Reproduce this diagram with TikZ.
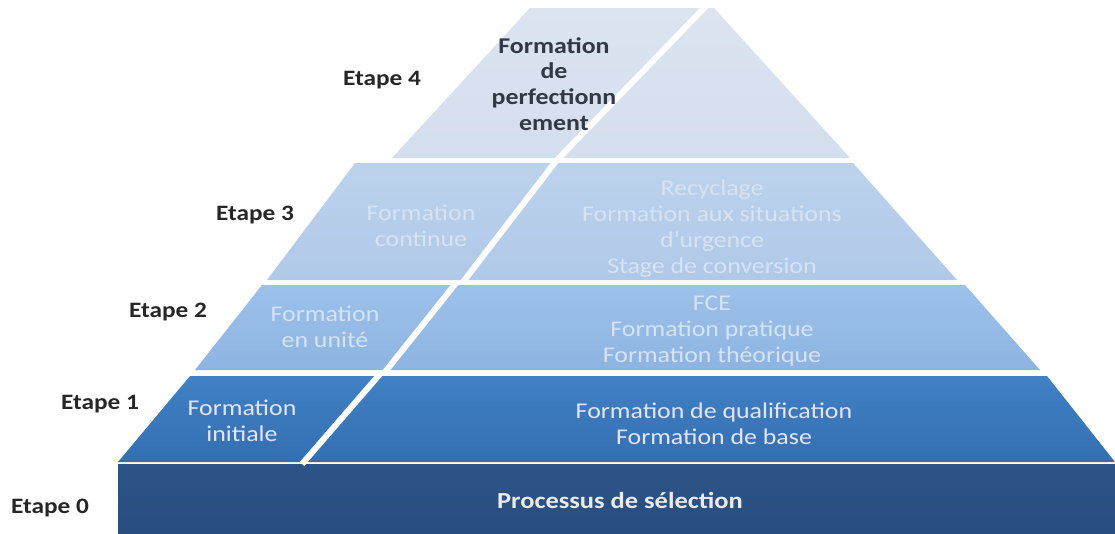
\documentclass[tikz,border=0pt]{standalone}
\usepackage{fontspec}
\setmainfont{Carlito}[FakeStretch=1.15]
\definecolor{baseblue}{HTML}{2C5487}
\definecolor{baseblueD}{HTML}{284E7E}
\definecolor{oneT}{HTML}{4181C5}
\definecolor{oneB}{HTML}{336EB2}
\definecolor{twoT}{HTML}{9CC1EA}
\definecolor{twoB}{HTML}{8DB4E1}
\definecolor{threeT}{HTML}{BCD2EC}
\definecolor{threeB}{HTML}{B0C9E8}
\definecolor{fourT}{HTML}{DCE4F0}
\definecolor{fourB}{HTML}{D3DEEE}
\definecolor{darktext}{HTML}{323844}
\definecolor{pale}{HTML}{D6E3F3}
\begin{document}
\begin{tikzpicture}[x=1pt,y=-1pt,
  stage/.style={font=\fontsize{22}{26}\selectfont\bfseries, text=black!85, inner sep=0pt},
  celltext/.style={align=center, inner sep=0pt, font=\fontsize{22.5}{26}\selectfont},
  divider/.style={white, line width=6pt},
  tierfill/.style 2 args={top color=#1, bottom color=#2, draw=none}]
% canvas
\fill[white] (0,0) rectangle (1115,533);
\useasboundingbox (0,0) rectangle (1115,533);

% Etape 0 : base block
\shade[tierfill={baseblue}{baseblueD}] (118,464) rectangle (1115,533);
% Etape 1
\shade[tierfill={oneT}{oneB}] (118,462) -- (1115,462) -- (1047,376) -- (190,376) -- cycle;
\draw[divider] (380,374) -- (302,464);
% Etape 2
\shade[tierfill={twoT}{twoB}] (195,370) -- (1040,370) -- (965,285) -- (262,285) -- cycle;
\draw[divider] (456,283) -- (385,372);
% Etape 3
\shade[tierfill={threeT}{threeB}] (267,280) -- (957,280) -- (853,163) -- (355,163) -- cycle;
\draw[divider] (556,161) -- (463,282);
% Etape 4
\shade[tierfill={fourT}{fourB}] (392,158) -- (850,158) -- (714,8) -- (530,8) -- cycle;
\draw[divider] (706,6) -- (557,160);

% stage labels
\node[stage] (e4) at (382,80) {Etape 4};
\node[stage] (e3) at (255,215) {Etape 3};
\node[stage] (e2) at (168,312) {Etape 2};
\node[stage] (e1) at (100,404) {Etape 1};
\node[stage] (e0) at (50,508) {Etape 0};

% cell texts
\node[celltext, font=\fontsize{22.5}{25.7}\selectfont\bfseries, text=darktext] (t4) at (554,84)
  {Formation\\de\\perfectionn\\ement};
\node[celltext, text=pale] (t3a) at (421,226) {Formation\\continue};
\node[celltext, text=pale] (t3b) at (712,229)
  {Recyclage\\Formation aux situations\\d'urgence\\Stage de conversion};
\node[celltext, text=pale] (t2a) at (325,327) {Formation\\en unité};
\node[celltext, text=pale] (t2b) at (712,331)
  {FCE\\Formation pratique\\Formation théorique};
\node[celltext, text=white!90!blue] (t1a) at (242,421) {Formation\\initiale};
\node[celltext, text=white!90!blue] (t1b) at (714,424)
  {Formation de qualification\\Formation de base};
\node[celltext, font=\fontsize{23}{26}\selectfont\bfseries, text=white!92!black] (t0) at (620,500)
  {Processus de sélection};
\end{tikzpicture}
\end{document}
